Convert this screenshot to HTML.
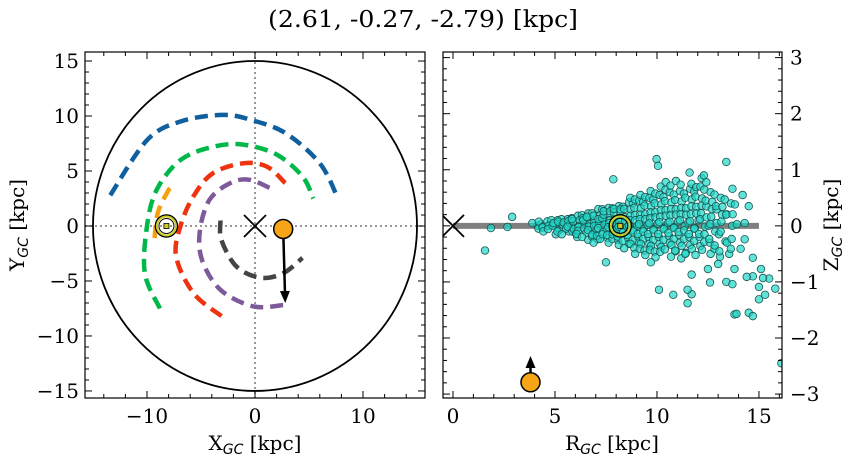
<!DOCTYPE html>
<html><head><meta charset="utf-8">
<style>
html,body{margin:0;padding:0;background:#fff;}
svg text{font-family:"DejaVu Serif","Liberation Serif",serif;fill:#000;}
.sub{font-family:"DejaVu Sans","Liberation Sans",sans-serif;font-style:italic;}
</style></head>
<body>
<svg id="fig" width="854" height="464" xmlns="http://www.w3.org/2000/svg">
<text x="423" y="27" font-size="23" text-anchor="middle" textLength="310" lengthAdjust="spacingAndGlyphs">(2.61, -0.27, -2.79) [kpc]</text>
<g id="left"></g>
<g id="right"></g>
<text x="255" y="450" font-size="20" text-anchor="middle">X<tspan class="sub" font-size="14" dy="4">GC</tspan><tspan dy="-4"> [kpc]</tspan></text>
<text transform="translate(24,225) rotate(-90)" font-size="20" text-anchor="middle">Y<tspan class="sub" font-size="14" dy="4">GC</tspan><tspan dy="-4"> [kpc]</tspan></text>
<text x="612" y="450" font-size="20" text-anchor="middle">R<tspan class="sub" font-size="14" dy="4">GC</tspan><tspan dy="-4"> [kpc]</tspan></text>
<text transform="translate(838,225) rotate(-90)" font-size="20" text-anchor="middle">Z<tspan class="sub" font-size="14" dy="4">GC</tspan><tspan dy="-4"> [kpc]</tspan></text>
</svg>
<script>
// ---- data ----
const starXYZ = [2.61, -0.27, -2.79];
const starVelEnd = [2.8, -7.0];
const starRZArrowEnd = -2.32;
const sunXY = [-8.2, 0];
const sunRZ = [8.2, 0];
const diskRadius = 15;
const arcBlue = [[-13.4,2.8],[-10,7.8],[-6.9,9.5],[-3,10.1],[-0.2,9.6],[2.9,8.4],[6,5.7],[7.6,2.7]];
const arcGreen = [[-8.8,-7.5],[-10.2,-4.3],[-10,0],[-9.1,3.3],[-6.9,6],[-3.9,7.2],[-1.1,7.4],[2,6.5],[4.4,4.5],[5.4,2.5]];
const arcOrange = [[-9.3,-1.1],[-9,1.2],[-8.1,3.1],[-7.7,3.6]];
const arcRed = [[-3.1,-8.2],[-5.7,-6.1],[-7.3,-2.8],[-6.9,0],[-5.7,2.7],[-3.9,4.8],[-1.1,5.7],[1.1,5.4],[2.8,3.9]];
const arcPurple = [[2.6,-7.2],[-0.2,-7.3],[-3.2,-5.8],[-4.9,-3.1],[-5.1,-0.4],[-4.2,2.4],[-2.3,3.9],[-0.5,4.2],[1.7,3.3]];
const arcGrey = [[-3.2,0.5],[-3.1,-1.3],[-1.7,-3.7],[0.5,-4.7],[2.6,-4.3],[4.4,-2.9]];
const coreR = [4,4.5,5,5.5,6,6.5,7,7.5,8,8.5,9,9.5,10,10.5,11,11.5,12,12.5,13,13.5];
const coreZ = [
 [0,0.05,-0.05],
 [0.08,-0.03,0,-0.1],
 [0.1,0,-0.08,0.05,-0.15],
 [0.12,0.02,-0.1,0.06,-0.05,-0.15],
 [0.18,0.08,0,-0.06,-0.14,0.12,-0.2],
 [0.22,0.1,0.03,-0.05,-0.12,-0.2,0.15,-0.25],
 [0.3,0.18,0.08,0,-0.08,-0.16,-0.24,0.12,-0.3],
 [0.32,0.2,0.1,0.02,-0.06,-0.15,-0.22,-0.3,0.26],
 [0.35,0.24,0.14,0.05,-0.05,-0.15,-0.25,-0.34,0.3],
 [0.42,0.3,0.18,0.08,-0.02,-0.12,-0.22,-0.32,-0.4,0.5],
 [0.45,0.32,0.2,0.1,0,-0.1,-0.2,-0.3,-0.4,0.55,-0.5],
 [0.5,0.36,0.24,0.12,0.02,-0.1,-0.2,-0.32,-0.44,0.62,-0.52],
 [0.55,0.4,0.28,0.15,0.04,-0.08,-0.2,-0.32,-0.46,0.7,-0.56],
 [0.6,0.44,0.3,0.18,0.05,-0.06,-0.18,-0.3,-0.42,-0.55,0.78],
 [0.62,0.46,0.32,0.2,0.08,-0.04,-0.16,-0.3,-0.44,-0.58,0.8],
 [0.66,0.5,0.35,0.2,0.06,-0.08,-0.2,-0.34,-0.5,0.75],
 [0.7,0.52,0.36,0.22,0.1,-0.05,-0.2,-0.36,-0.52,0.85],
 [0.6,0.45,0.3,0.15,0,-0.15,-0.3,-0.5],
 [0.5,0.35,0.2,0.05,-0.15,-0.35,-0.55],
 [0.4,0.2,0,-0.3,-0.5]
];
const outR = [1.57,1.86,2.67,2.9,7.86,9.98,10.05,13.4,11.6,12.3,7.5,9.7,10.1,10.8,11.5,11.7,11.7,13.8,14.5,14.7,15,15.3,15.8,15.5,15.2,14.7,14.4,14.7,15.1,13.8,13.4,13.7,12.6,12.5,13,14.3,14.1,14.3,14.5,14.2,13.7,15,16.1,13.9,11.5];
const outZ = [-0.44,-0.04,-0.02,0.16,0.83,1.19,1.07,1.14,0.95,0.9,-0.65,-0.65,-1.14,-1.23,-1.38,-0.87,-1.22,-1.58,-1.55,-1.61,-1.31,-1.23,-1.12,-0.94,-0.93,-0.9,-0.91,-0.57,-0.77,-0.77,-1.0,-1.04,-1.01,-0.77,-0.68,-0.24,-0.41,0.05,0.35,0.55,0.66,-1.09,-2.45,-1.57,-1.14];
const leftXTicks = [-10,0,10];
const leftYTicks = [-15,-10,-5,0,5,10,15];
const rightXTicks = [0,5,10,15];
const rightYTicks = [-3,-2,-1,0,1,2,3];

// ---- helpers ----
const NS="http://www.w3.org/2000/svg";
function mk(parent,tag,attrs){const e=document.createElementNS(NS,tag);for(const k in attrs)e.setAttribute(k,attrs[k]);parent.appendChild(e);return e;}
const L={x0:85,x1:425,y0:52,y1:398,xmin:-15.74,xmax:15.74,ymin:-15.64,ymax:15.82};
const R={x0:443,x1:782,y0:52,y1:398,xmin:-0.49,xmax:16.13,ymin:-3.07,ymax:3.1};
function sx(a,v){return a.x0+(v-a.xmin)/(a.xmax-a.xmin)*(a.x1-a.x0);}
function sy(a,v){return a.y1-(v-a.ymin)/(a.ymax-a.ymin)*(a.y1-a.y0);}
function fmt(v){return v<0?"\u2212"+(-v):""+v;}

function axes(g,a,xt,xminor,yt,yminor,yRight){
  for(let v=Math.ceil(a.xmin/xminor)*xminor;v<=a.xmax;v+=xminor){
    const vv=Math.round(v*1000)/1000;const maj=xt.includes(vv);const len=maj?7:4;const x=sx(a,vv);
    const t1=mk(g,"line",{x1:x,x2:x,y1:a.y1,y2:a.y1-len,stroke:"#000","stroke-width":1});
    
    const t2=mk(g,"line",{x1:x,x2:x,y1:a.y0,y2:a.y0+len,stroke:"#000","stroke-width":1});
    
  }
  xt.forEach(v=>{const t=mk(g,"text",{x:sx(a,v),y:a.y1+25,"font-size":20,"text-anchor":"middle"});t.textContent=fmt(v);
    });
  for(let v=Math.ceil(a.ymin/yminor)*yminor;v<=a.ymax;v+=yminor){
    const vv=Math.round(v*1000)/1000;const maj=yt.includes(vv);const len=maj?7:4;const y=sy(a,vv);
    const t1=mk(g,"line",{x1:a.x0,x2:a.x0+len,y1:y,y2:y,stroke:"#000","stroke-width":1});
    
    const t2=mk(g,"line",{x1:a.x1,x2:a.x1-len,y1:y,y2:y,stroke:"#000","stroke-width":1});
    
  }
  yt.forEach(v=>{const t=mk(g,"text",{x:yRight?a.x1+8:a.x0-6,y:sy(a,v)+7,"font-size":20,"text-anchor":yRight?"start":"end"});t.textContent=fmt(v);
    });
  const f=mk(g,"rect",{x:a.x0,y:a.y0,width:a.x1-a.x0,height:a.y1-a.y0,fill:"none",stroke:"#000","stroke-width":1.2});
  
}
function sun(g,a,x,y){
  const cx=sx(a,x),cy=sy(a,y);
  const c1=mk(g,"circle",{cx:cx,cy:cy,r:11,fill:"none",stroke:"#000","stroke-width":1.5});
  
  const c2=mk(g,"circle",{cx:cx,cy:cy,r:9.5,fill:"none",stroke:"#cccc22","stroke-width":2});
  
  const c3=mk(g,"circle",{cx:cx,cy:cy,r:7.5,fill:"none",stroke:"#000","stroke-width":1});
  
  const s=mk(g,"rect",{x:cx-2.5,y:cy-2.5,width:5,height:5,fill:"#cccc22",stroke:"#000","stroke-width":0.8});
  
}
function cross(g,a,x,y){
  const cx=sx(a,x),cy=sy(a,y);
  const p=mk(g,"path",{d:`M${cx-11},${cy-11}L${cx+11},${cy+11}M${cx-11},${cy+11}L${cx+11},${cy-11}`,stroke:"#000","stroke-width":1.8,fill:"none"});
  
}
function arrow(g,x1,y1,x2,y2){
  const ang=Math.atan2(y2-y1,x2-x1),h=12,w=5;
  const bx=x2-h*Math.cos(ang),by=y2-h*Math.sin(ang);
  const l=mk(g,"line",{x1:x1,y1:y1,x2:bx,y2:by,stroke:"#000","stroke-width":2.5});
  
  const px=-Math.sin(ang)*w,py=Math.cos(ang)*w;
  const hd=mk(g,"polygon",{points:`${x2},${y2} ${bx+px},${by+py} ${bx-px},${by-py}`,fill:"#000"});
  
}

// ---- left panel ----
const gl=document.getElementById("left");
const clipL=mk(gl,"clipPath",{id:"clipL"});mk(clipL,"rect",{x:L.x0,y:L.y0,width:L.x1-L.x0,height:L.y1-L.y0});
const pl=mk(gl,"g",{"clip-path":"url(#clipL)"});
const vline=mk(pl,"line",{x1:sx(L,0),x2:sx(L,0),y1:L.y0,y2:L.y1,stroke:"#777","stroke-width":1.5,"stroke-dasharray":"2,3"});

const hline=mk(pl,"line",{x1:L.x0,x2:L.x1,y1:sy(L,0),y2:sy(L,0),stroke:"#777","stroke-width":1.5,"stroke-dasharray":"2,3"});

const disk=mk(pl,"ellipse",{cx:sx(L,0),cy:sy(L,0),rx:sx(L,diskRadius)-sx(L,0),ry:sy(L,0)-sy(L,diskRadius),fill:"none",stroke:"#000","stroke-width":1.8});

function arcPath(pts){
  const p=pts.map(q=>[sx(L,q[0]),sy(L,q[1])]);
  let d=`M${p[0][0]},${p[0][1]}`;
  for(let i=0;i<p.length-1;i++){
    const p0=p[Math.max(0,i-1)],p1=p[i],p2=p[i+1],p3=p[Math.min(p.length-1,i+2)];
    d+=`C${p1[0]+(p2[0]-p0[0])/6},${p1[1]+(p2[1]-p0[1])/6} ${p2[0]-(p3[0]-p1[0])/6},${p2[1]-(p3[1]-p1[1])/6} ${p2[0]},${p2[1]}`;
  }
  return d;
}
const arcs=[[arcBlue,"#1060a0","spiral-arm-blue"],[arcGreen,"#00b84a","spiral-arm-green"],[arcRed,"#ee3311","spiral-arm-red"],[arcPurple,"#7d5a9a","spiral-arm-purple"],[arcGrey,"#444444","spiral-arm-grey"],[arcOrange,"#f5a011","spiral-arm-orange"]];
arcs.forEach(([pts,col,name])=>{
  const p=mk(pl,"path",{d:arcPath(pts),fill:"none",stroke:col,"stroke-width":4.5,"stroke-dasharray":"13,7"});
  
});
sun(pl,L,sunXY[0],sunXY[1]);
cross(pl,L,0,0);
arrow(pl,sx(L,starXYZ[0]),sy(L,starXYZ[1]),sx(L,starVelEnd[0]),sy(L,starVelEnd[1]));
const st=mk(pl,"circle",{cx:sx(L,starXYZ[0]),cy:sy(L,starXYZ[1]),r:9.5,fill:"#f5a516",stroke:"#000","stroke-width":1.5});

axes(gl,L,leftXTicks,2,leftYTicks,1,false);

// ---- right panel ----
const gr=document.getElementById("right");
const clipR=mk(gr,"clipPath",{id:"clipR"});mk(clipR,"rect",{x:R.x0,y:R.y0,width:R.x1-R.x0,height:R.y1-R.y0});
const pr=mk(gr,"g",{"clip-path":"url(#clipR)"});
const band=mk(pr,"line",{x1:sx(R,0),x2:sx(R,15),y1:sy(R,0),y2:sy(R,0),stroke:"#808080","stroke-width":6});

function dot(r,z){
  const c=mk(pr,"circle",{cx:sx(R,r),cy:sy(R,z),r:3.8,fill:"rgba(30,215,200,0.7)",stroke:"#1a5552","stroke-width":0.8});
  
}
const jit=[0.13,-0.11,0.19,-0.07,0.04,-0.17,0.09];
coreR.forEach((r,i)=>{coreZ[i].forEach((z,j)=>{
  dot(r+jit[j%7],z);
  dot(r+0.25-jit[(j+3)%7],z*0.88+0.03);
});});
outR.forEach((r,i)=>dot(r,outZ[i]));
sun(pr,R,sunRZ[0],sunRZ[1]);
cross(pr,R,0,0);
const starR=3.8;
arrow(pr,sx(R,starR),sy(R,starXYZ[2]),sx(R,starR),sy(R,starRZArrowEnd));
const st2=mk(pr,"circle",{cx:sx(R,starR),cy:sy(R,starXYZ[2]),r:9.5,fill:"#f5a516",stroke:"#000","stroke-width":1.5});

axes(gr,R,rightXTicks,1,rightYTicks,0.2,true);
</script>
</body></html>
